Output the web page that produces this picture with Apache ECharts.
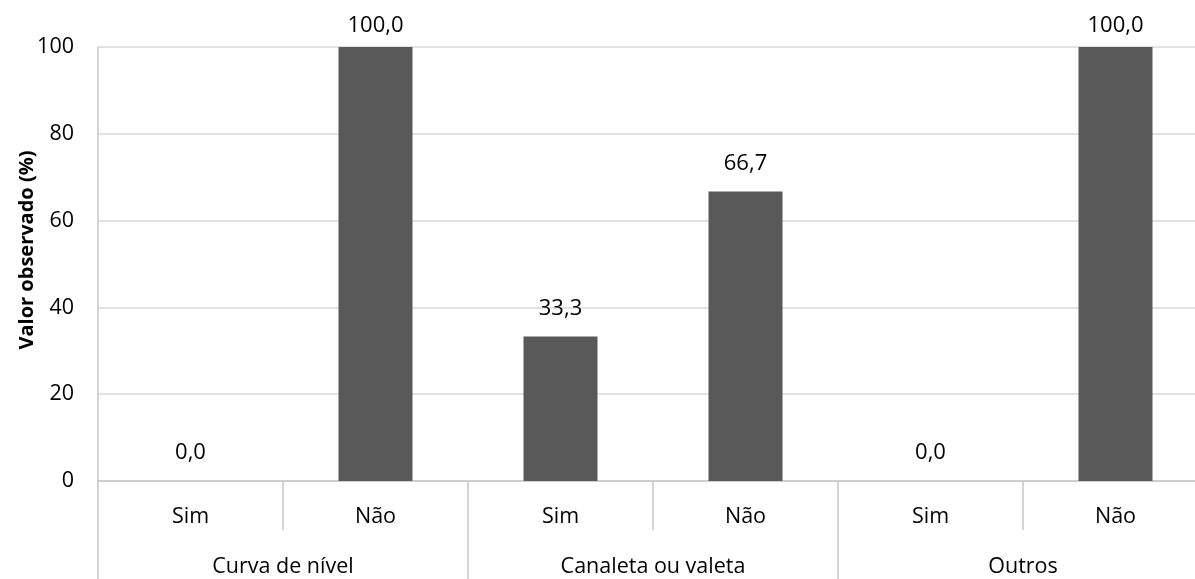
<!DOCTYPE html>
<html>
<head>
<meta charset="utf-8">
<script src="https://cdn.jsdelivr.net/npm/echarts@6/dist/echarts.min.js"></script>
<style>html,body{margin:0;padding:0;background:#fff}#c{width:1195px;height:579px}</style>
</head>
<body>
<div id="c"></div>
<script>
const subCategories = ['Sim', 'Não', 'Sim', 'Não', 'Sim', 'Não'];
const groups = ['Curva de nível', 'Canaleta ou valeta', 'Outros'];
const values = [0.0, 100.0, 33.3, 66.7, 0.0, 100.0];
const yTicks = [0, 20, 40, 60, 80, 100];
const yTitle = 'Valor observado (%)';

const FONT = 'Open Sans';
const FS = 21.5;
const chart = echarts.init(document.getElementById('c'), null, {renderer: 'canvas'});
chart.setOption({
  animation: false,
  backgroundColor: '#fff',
  textStyle: {fontFamily: FONT},
  grid: {left: 98, top: 47, width: 1110, height: 434, containLabel: false, outerBoundsMode: 'none'},
  xAxis: [
    {
      type: 'category', data: subCategories, position: 'bottom',
      axisLine: {show: true, lineStyle: {color: '#c8c8c8', width: 1.5}},
      axisTick: {show: true, interval: 0, length: 49, lineStyle: {color: '#c8c8c8', width: 1.5}},
      axisLabel: {interval: 0, color: '#000', fontSize: FS, fontFamily: FONT, margin: 25}
    },
    {
      type: 'category', data: groups, position: 'bottom', gridIndex: 0,
      axisLine: {show: false},
      axisTick: {show: true, interval: 0, length: 100, lineStyle: {color: '#c8c8c8', width: 1.5}},
      axisLabel: {interval: 0, color: '#000', fontSize: FS, fontFamily: FONT, margin: 75}
    }
  ],
  yAxis: {
    type: 'value', min: 0, max: 100, interval: 20,
    name: yTitle, nameLocation: 'middle', nameGap: 61, nameRotate: 90, nameMoveOverlap: false,
    nameTextStyle: {fontSize: 20, fontWeight: 'bold', color: '#000', fontFamily: FONT, padding: [0, 0, 0, 28]},
    axisLine: {show: true, lineStyle: {color: '#c8c8c8', width: 1.5}},
    axisTick: {show: false},
    axisLabel: {color: '#000', fontSize: FS, fontFamily: FONT, margin: 24,
      formatter: v => yTicks.includes(v) ? String(v) : ''},
    splitLine: {show: true, lineStyle: {color: '#d9d9d9', width: 1.5}}
  },
  series: [{
    type: 'bar', xAxisIndex: 0,
    data: values.map(v => ({value: v, label: {distance: v >= 100 ? 10 : 17}})),
    barCategoryGap: '60%',
    itemStyle: {color: '#595959'},
    label: {show: true, position: 'top', color: '#000', fontSize: 22, fontFamily: FONT,
      formatter: p => p.value.toFixed(1).replace('.', ',')}
  }]
});
</script>
</body>
</html>
